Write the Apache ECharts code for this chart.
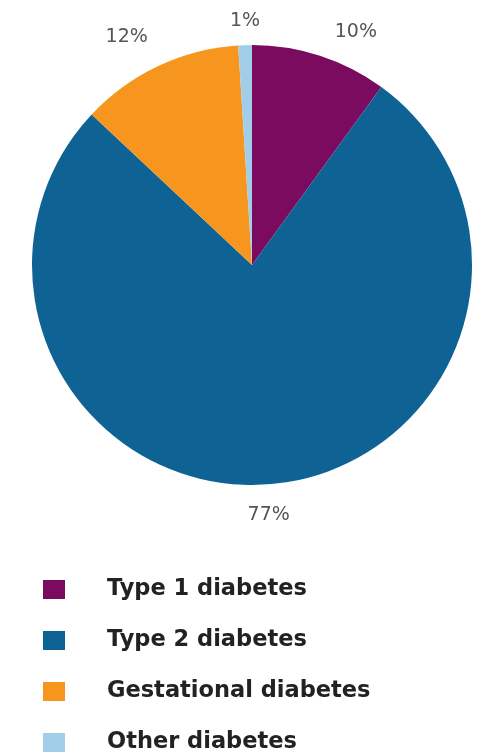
<!DOCTYPE html>
<html><head><meta charset="utf-8">
<script src="https://cdn.jsdelivr.net/npm/echarts@6/dist/echarts.min.js"></script>
<style>html,body{margin:0;padding:0;background:#fff}#c{width:489px;height:754px}</style>
</head><body><div id="c"></div>
<script>
const categories = ['Type 1 diabetes', 'Type 2 diabetes', 'Gestational diabetes', 'Other diabetes'];
const values = [10, 77, 12, 1];
const colors = ['#7b0b5f', '#0f6394', '#f7961f', '#a2cde8'];

// layout / style settings
const CX = 252, CY = 265, R = 220, LABEL_R = 252;
const labelNudge = [[26, 7], [-7, -1], [-18, 0], [1, 8]];

const total = values.reduce((a, b) => a + b, 0);
const cum = [];
values.reduce((acc, v, i) => { cum[i] = acc; return acc + v; }, 0);

const chart = echarts.init(document.getElementById('c'));
chart.setOption({
  animation: false,
  color: colors,
  legend: {
    orient: 'vertical',
    left: 43,
    top: 578,
    height: 250,
    padding: 0,
    itemWidth: 22,
    itemHeight: 19,
    itemGap: 28,
    icon: 'rect',
    textStyle: { fontFamily: 'DejaVu Sans', fontWeight: 'bold', fontSize: 22.5, lineHeight: 19, color: '#222', padding: [0, 0, 0, 37] },
    data: categories
  },
  series: [{
    type: 'pie',
    center: [CX, CY],
    radius: R,
    startAngle: 90,
    clockwise: true,
    silent: true,
    data: categories.map((n, i) => ({ name: n, value: values[i] })),
    label: {
      show: true,
      position: 'outside',
      formatter: '{c}%',
      fontFamily: 'DejaVu Sans',
      fontSize: 19,
      color: '#555'
    },
    labelLine: { show: false },
    labelLayout: function (p) {
      const i = p.dataIndex;
      const a = (cum[i] + values[i] / 2) / total * 2 * Math.PI;
      return {
        x: CX + LABEL_R * Math.sin(a) + labelNudge[i][0],
        y: CY - LABEL_R * Math.cos(a) + labelNudge[i][1],
        align: 'center',
        verticalAlign: 'middle'
      };
    },
    itemStyle: { borderWidth: 0 }
  }]
});
</script></body></html>
